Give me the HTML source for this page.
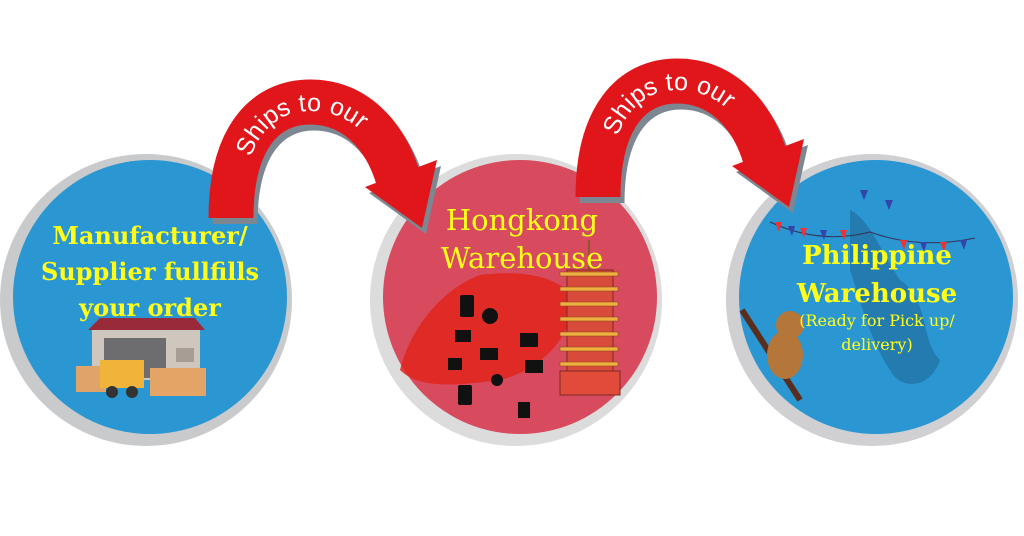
<!DOCTYPE html>
<html><head><meta charset="utf-8"><style>
html,body{margin:0;padding:0;background:#fff;}
svg{display:block;}
</style></head><body>
<svg width="1024" height="536" viewBox="0 0 1024 536" xmlns="http://www.w3.org/2000/svg">
<defs>
<g id="arrow">
  <g transform="translate(4,6)" fill="#7d8792" stroke="#7d8792">
    <path d="M231,218 C231,138 265,102 310,102 C355,102 385,135 398,178" fill="none" stroke-width="45"/>
    <polygon points="365,187 437,160 422,228" stroke="none"/>
  </g>
  <path d="M231,218 C231,138 265,102 310,102 C355,102 385,135 398,178" fill="none" stroke="#e0161a" stroke-width="45"/>
  <polygon points="365,187 437,160 422,228" fill="#e0161a"/>
</g>
<path id="tp" d="M234,214 C234,140 266,103 310,103 C354,103 384,134 398,176" fill="none"/>
</defs>

<circle cx="146" cy="300" r="146" fill="#c9cacc"/>
<circle cx="150" cy="297" r="137" fill="#2a96d2"/>
<circle cx="516" cy="300" r="146" fill="#dcdcdc"/>
<circle cx="520" cy="297" r="137" fill="#d84a5e"/>
<circle cx="872" cy="300" r="146" fill="#d0d0d2"/>
<circle cx="876" cy="297" r="137" fill="#2a96d2"/>

<polygon points="88,330 100,318 195,318 205,330" fill="#982a3a"/>
<rect x="92" y="330" width="108" height="50" fill="#cfc6bd"/>
<rect x="104" y="338" width="62" height="40" fill="#6d6d70"/>
<rect x="176" y="348" width="18" height="14" fill="#a79d94"/>
<rect x="76" y="366" width="30" height="26" fill="#e0a36a"/>
<rect x="150" y="368" width="56" height="28" fill="#e3a465"/>
<rect x="100" y="360" width="44" height="28" fill="#f0b43a"/>
<circle cx="112" cy="392" r="6" fill="#333"/><circle cx="132" cy="392" r="6" fill="#333"/>

<path d="M400,370 C410,330 440,290 480,275 C520,270 560,275 575,300 C570,340 540,370 500,380 C460,385 420,390 400,370 Z" fill="#e0251c" opacity="0.85"/>
<g fill="#111">
<rect x="460" y="295" width="14" height="22" rx="2"/><circle cx="490" cy="316" r="8"/>
<rect x="455" y="330" width="16" height="12"/><rect x="480" y="348" width="18" height="12"/>
<rect x="520" y="333" width="18" height="14"/><rect x="525" y="360" width="18" height="13"/>
<rect x="458" y="385" width="14" height="20" rx="2"/><rect x="518" y="402" width="12" height="16"/>
<rect x="448" y="358" width="14" height="12"/><circle cx="497" cy="380" r="6"/>
</g>
<g>
<rect x="588" y="240" width="2" height="30" fill="#8a5a2a"/>
<rect x="567" y="270" width="46" height="105" fill="#d84a3a" stroke="#7a2a20" stroke-width="1"/>
<g fill="#f0b040" stroke="#8a4a20" stroke-width="0.6">
<rect x="560" y="272" width="58" height="4"/><rect x="560" y="287" width="58" height="4"/>
<rect x="560" y="302" width="58" height="4"/><rect x="560" y="317" width="58" height="4"/>
<rect x="560" y="332" width="58" height="4"/><rect x="560" y="347" width="58" height="4"/>
<rect x="560" y="362" width="58" height="4"/>
</g>
<rect x="560" y="371" width="60" height="24" fill="#e24a3a" stroke="#7a2a20" stroke-width="1"/>
</g>

<path d="M850,210 C870,220 880,250 900,280 C930,300 920,340 940,360 C930,390 900,390 890,370 C870,340 860,300 850,270 Z" fill="#2374a8" opacity="0.8"/>
<path d="M770,222 Q820,245 870,232 Q920,250 975,238" fill="none" stroke="#335" stroke-width="1"/>
<g fill="#e33">
<polygon points="775,222 782,222 779,232"/><polygon points="800,228 807,228 804,238"/><polygon points="840,230 847,230 844,240"/>
<polygon points="900,240 907,240 904,250"/><polygon points="940,242 947,242 944,252"/>
</g>
<g fill="#3344aa">
<polygon points="788,226 795,226 792,236"/><polygon points="820,230 827,230 824,240"/><polygon points="860,190 868,190 864,200"/>
<polygon points="920,242 927,242 924,252"/><polygon points="960,240 967,240 964,250"/><polygon points="885,200 893,200 889,210"/>
</g>
<path d="M742,310 L800,400" stroke="#5a2e1e" stroke-width="6"/>
<ellipse cx="785" cy="355" rx="18" ry="24" fill="#b5763a"/>
<circle cx="790" cy="325" r="14" fill="#b5763a"/>

<use href="#arrow"/>
<use href="#arrow" transform="translate(367,-21)"/>
<g font-family="Liberation Sans, sans-serif" font-size="25" fill="#fff" letter-spacing="1.5">
<text dominant-baseline="central"><textPath href="#tp" startOffset="50%" text-anchor="middle">Ships to our</textPath></text>
<text dominant-baseline="central" transform="translate(367,-21)"><textPath href="#tp" startOffset="50%" text-anchor="middle">Ships to our</textPath></text>
</g>

<g font-family="DejaVu Serif, Liberation Serif, serif" fill="#ffff1a" text-anchor="middle">
<g font-weight="bold" font-size="24">
<text x="150" y="244">Manufacturer/</text>
<text x="150" y="280">Supplier fullfills</text>
<text x="150" y="316">your order</text>
</g>
<g font-size="29">
<text x="522" y="230">Hongkong</text>
<text x="522" y="268">Warehouse</text>
</g>
<g font-weight="bold" font-size="26">
<text x="877" y="264">Philippine</text>
<text x="877" y="302">Warehouse</text>
</g>
<g font-size="16">
<text x="877" y="326">(Ready for Pick up/</text>
<text x="877" y="350">delivery)</text>
</g>
</g>
</svg>
</body></html>
